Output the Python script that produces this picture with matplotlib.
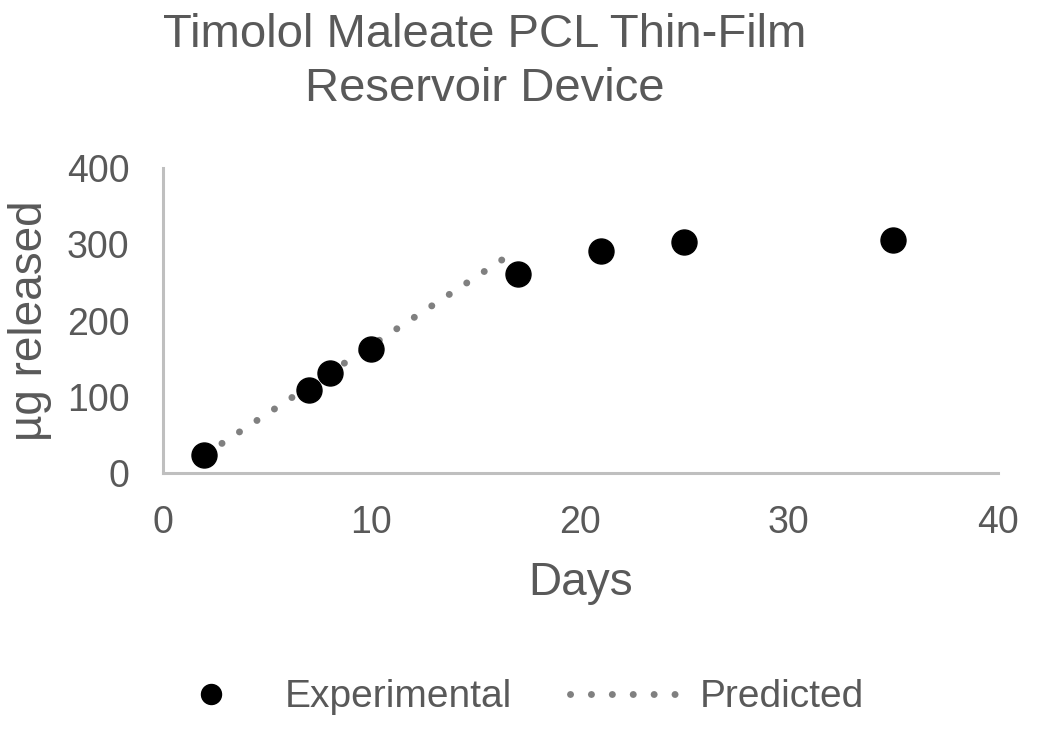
import matplotlib.pyplot as plt

plt.rcParams['font.family'] = ['Liberation Sans', 'DejaVu Sans']

days = [2, 7, 8, 10, 17, 21, 25, 35]
released = [24, 109, 131, 163, 261, 291, 303, 306]

pred_days = [2, 16.5]
pred_released = [24, 284]

grey = '#595959'

fig = plt.figure(figsize=(10.5, 7.37), dpi=100)
ax = fig.add_axes([0.155, 0.358, 0.795, 0.414])

ax.plot(days, released, 'o', color='black', markersize=18, label='Experimental', zorder=3)
ax.plot(pred_days, pred_released, color='#808080', linewidth=5,
        linestyle=(0, (0.01, 3.0)), dash_capstyle='round', label='Predicted', zorder=2)

ax.set_xlim(0, 40)
ax.set_ylim(0, 400)
ax.set_xticks([0, 10, 20, 30, 40])
ax.set_yticks([0, 100, 200, 300, 400])

for s in ['top', 'right']:
    ax.spines[s].set_visible(False)
for s in ['left', 'bottom']:
    ax.spines[s].set_color('#bfbfbf')
    ax.spines[s].set_linewidth(2.2)
ax.tick_params(length=0, labelsize=27, labelcolor=grey)
ax.tick_params(axis='x', pad=23)
ax.tick_params(axis='y', pad=24)

ax.set_xlabel('Days', fontsize=33, color=grey, labelpad=14)
ax.set_ylabel('µg released', fontsize=33, color=grey, labelpad=11)
fig.suptitle('Timolol Maleate PCL Thin-Film\nReservoir Device', fontsize=34, color=grey,
             x=0.462, y=0.982, linespacing=1.28)

fig.legend(loc='center', bbox_to_anchor=(0.485, 0.054), ncol=2, frameon=False,
           fontsize=28, labelcolor=grey, handlelength=2.95, handletextpad=0.4,
           columnspacing=1.5, markerscale=0.8)

fig.savefig('out.png', dpi=100)
